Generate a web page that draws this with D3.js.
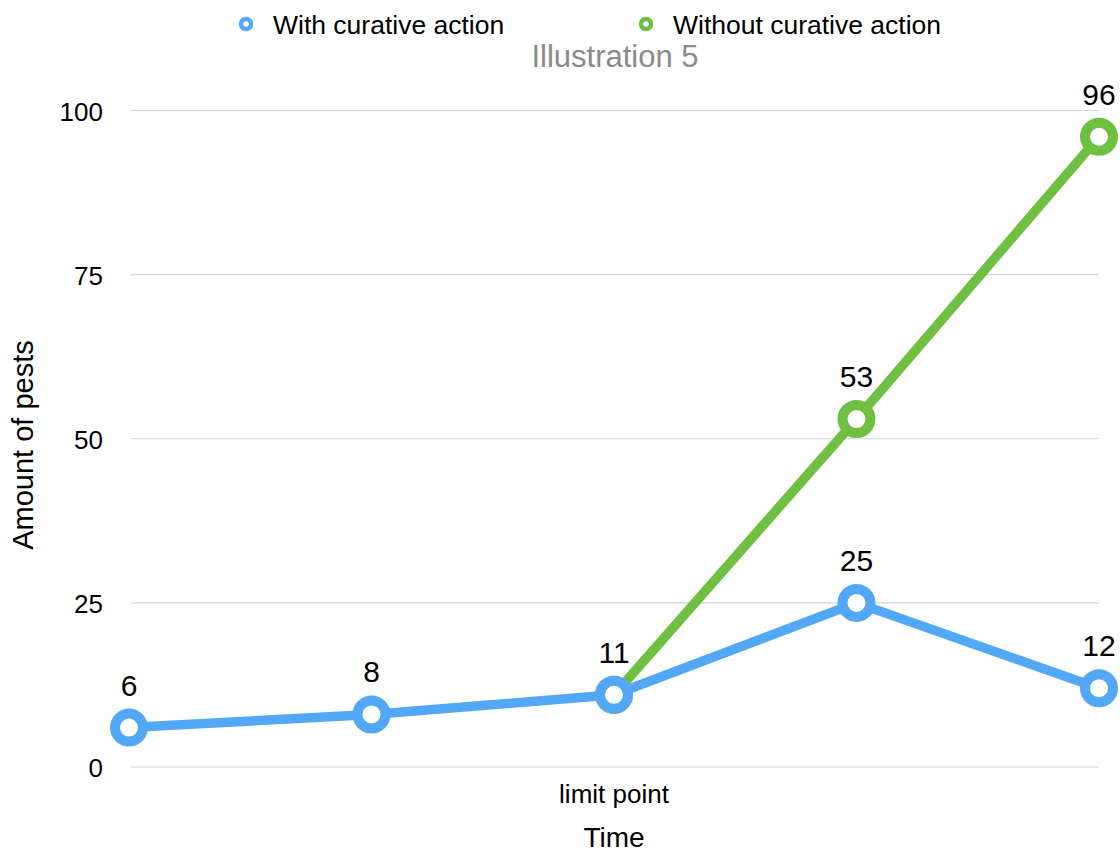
<!DOCTYPE html>
<html>
<head>
<meta charset="utf-8">
<script src="https://cdn.jsdelivr.net/npm/d3@7"></script>
<style>
  body { margin: 0; background: #fff; }
  svg { font-family: "Liberation Sans", Arial, Helvetica, sans-serif; }
</style>
</head>
<body>
<div id="chart"></div>
<script>
// data
const categories = ["", "", "limit point", "", ""];
const withAction = [6, 8, 11, 25, 12];
const withoutAction = [null, null, 11, 53, 96];
const yTicks = [0, 25, 50, 75, 100];
const seriesNames = ["With curative action", "Without curative action"];

const w = 1120, h = 854;
const blue = "#52a8f6", green = "#6fbf41";

const svg = d3.select("#chart").append("svg").attr("width", w).attr("height", h);

const x = d3.scalePoint().domain(d3.range(categories.length)).range([129, 1099]);
const y = d3.scaleLinear().domain([0, 100]).range([767, 110.5]);

// gridlines
svg.append("g")
    .selectAll("line")
    .data(yTicks)
    .enter().append("line")
    .attr("x1", 131).attr("x2", 1099)
    .attr("y1", d => y(d)).attr("y2", d => y(d))
    .attr("stroke", "#d4d4d4").attr("stroke-width", 1.2);

// y tick labels
svg.append("g")
    .selectAll("text")
    .data(yTicks)
    .enter().append("text")
    .attr("x", 103)
    .attr("y", d => y(d) + 10)
    .attr("text-anchor", "end")
    .attr("font-size", 26)
    .attr("fill", "#000")
    .text(d => d);

// x category labels
svg.append("g")
    .selectAll("text")
    .data(categories)
    .enter().append("text")
    .attr("x", (d, i) => x(i))
    .attr("y", 803)
    .attr("text-anchor", "middle")
    .attr("font-size", 26)
    .text(d => d);

// axis titles
svg.append("text")
    .attr("x", 614).attr("y", 847)
    .attr("text-anchor", "middle")
    .attr("font-size", 28)
    .text("Time");

svg.append("text")
    .attr("transform", "translate(33,445) rotate(-90)")
    .attr("text-anchor", "middle")
    .attr("font-size", 29)
    .text("Amount of pests");

// title
svg.append("text")
    .attr("x", 615).attr("y", 67)
    .attr("text-anchor", "middle")
    .attr("font-size", 31)
    .attr("fill", "#8a8a8a")
    .text("Illustration 5");

// legend
const legend = [
    { name: seriesNames[0], color: blue, mx: 246, tx: 273 },
    { name: seriesNames[1], color: green, mx: 646, tx: 673 }
];
const lg = svg.append("g").selectAll("g").data(legend).enter().append("g");
lg.append("circle")
    .attr("cx", d => d.mx).attr("cy", 24).attr("r", 5)
    .attr("fill", "#fff").attr("stroke", d => d.color).attr("stroke-width", 4.5);
lg.append("text")
    .attr("x", d => d.tx).attr("y", 34)
    .attr("font-size", 26.5)
    .text(d => d.name);

const line = d3.line()
    .defined(d => d != null)
    .x((d, i) => x(i))
    .y(d => y(d));

const drawSeries = (values, color) => {
    const g = svg.append("g");
    g.append("path")
        .datum(values)
        .attr("d", line)
        .attr("fill", "none")
        .attr("stroke", color)
        .attr("stroke-width", 9.5)
        .attr("stroke-linejoin", "round");
    const pts = values.map((v, i) => ({ v, i })).filter(d => d.v != null);
    g.selectAll("circle")
        .data(pts)
        .enter().append("circle")
        .attr("cx", d => x(d.i)).attr("cy", d => y(d.v))
        .attr("r", 14)
        .attr("fill", "#fff")
        .attr("stroke", color)
        .attr("stroke-width", 10);
    return pts;
};

const greenPts = drawSeries(withoutAction, green);
const bluePts = drawSeries(withAction, blue);

// value labels
const labelPts = bluePts.concat(greenPts.filter(d => withAction[d.i] !== d.v));
svg.append("g")
    .selectAll("text")
    .data(labelPts)
    .enter().append("text")
    .attr("x", d => x(d.i))
    .attr("y", d => y(d.v) - 32)
    .attr("text-anchor", "middle")
    .attr("font-size", 30)
    .text(d => d.v);
</script>
</body>
</html>
